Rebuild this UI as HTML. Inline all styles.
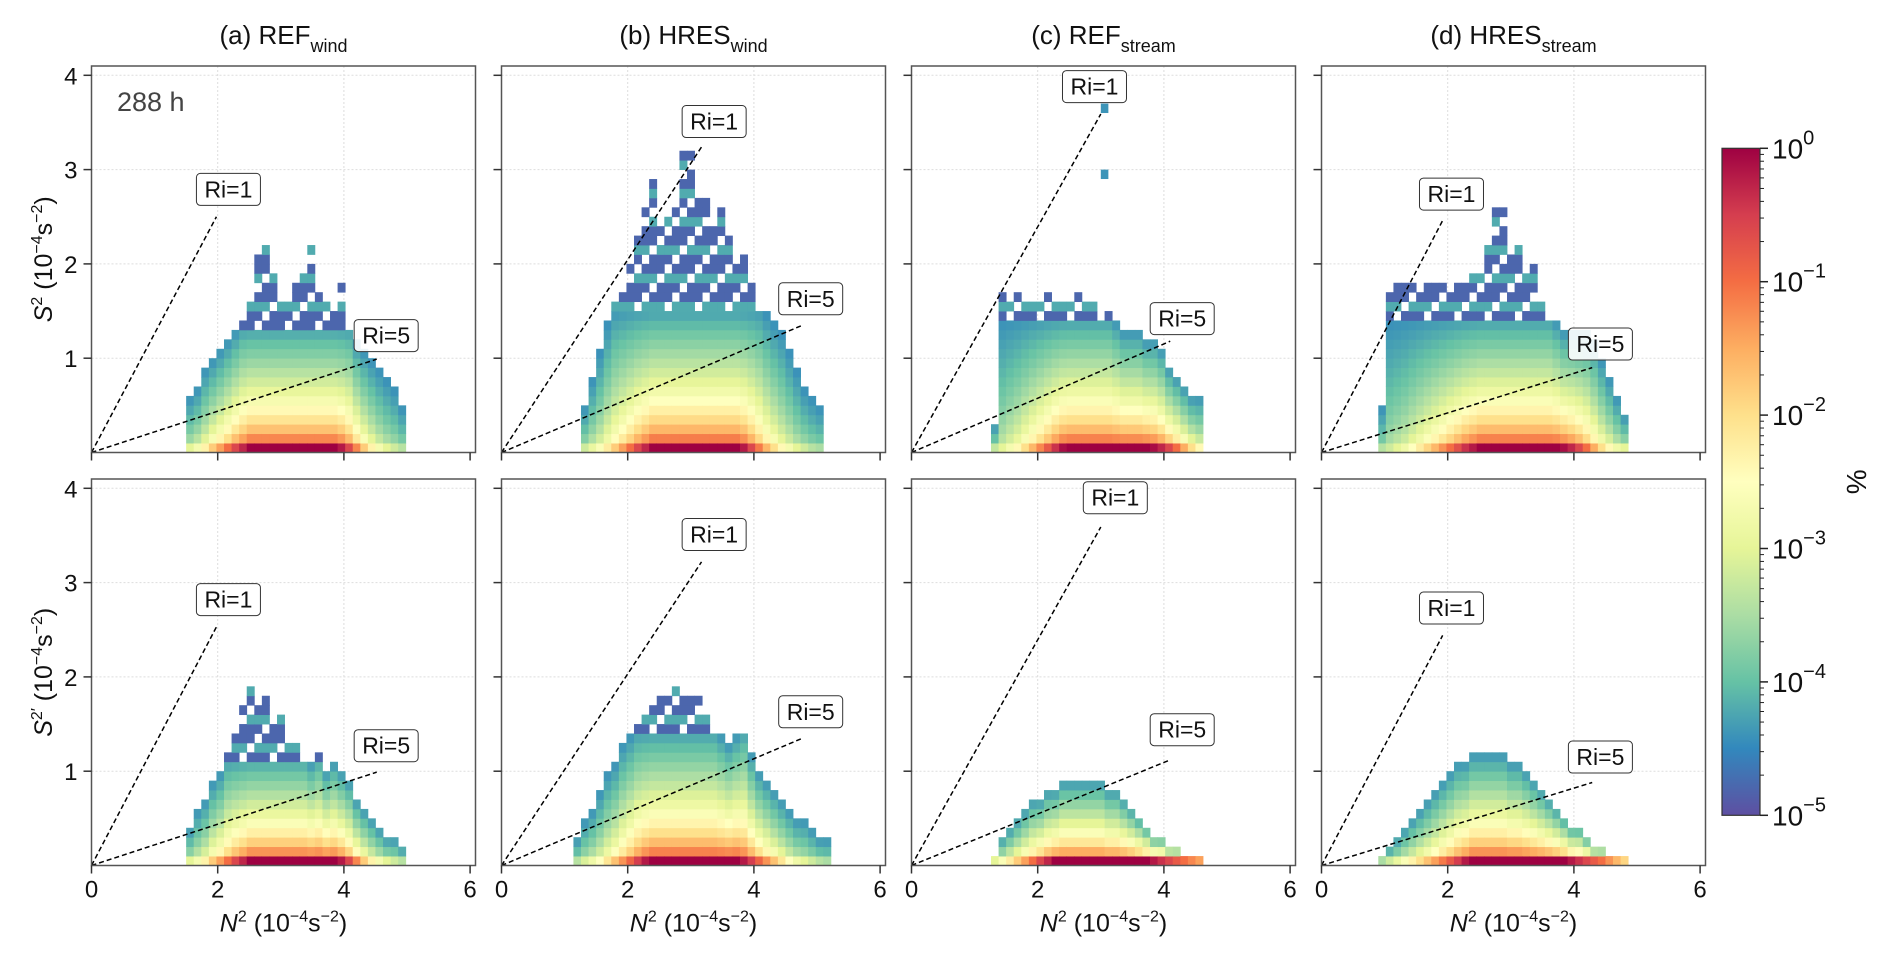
<!DOCTYPE html>
<html><head><meta charset="utf-8"><style>
html,body{margin:0;padding:0;background:#fff;}
svg{display:block;font-family:"Liberation Sans","DejaVu Sans",sans-serif;}
</style></head><body>
<svg id="fig" width="1892" height="961" viewBox="0 0 1892 961" xmlns="http://www.w3.org/2000/svg">
<defs>
<linearGradient id="cbgrad" x1="0" y1="1" x2="0" y2="0">
<stop offset="0" stop-color="#5e4fa2"/><stop offset="0.1" stop-color="#3288bd"/><stop offset="0.2" stop-color="#66c2a5"/><stop offset="0.3" stop-color="#abdda4"/><stop offset="0.4" stop-color="#e6f598"/><stop offset="0.5" stop-color="#ffffbf"/><stop offset="0.6" stop-color="#fee08b"/><stop offset="0.7" stop-color="#fdae61"/><stop offset="0.8" stop-color="#f46d43"/><stop offset="0.9" stop-color="#d53e4f"/><stop offset="1" stop-color="#9e0142"/>
</linearGradient>
</defs>
</svg>
<script>
// ---- data (per panel: a-top, b-top, c-top, d-top, a-bot, b-bot, c-bot, d-bot) ----
const panelTitles = ["(a) REF", "(b) HRES", "(c) REF", "(d) HRES"];
const panelSubs = ["wind", "wind", "stream", "stream"];
const binStarts = [1.5, 1.26, 1.26, 0.9, 1.5, 1.14, 1.26, 0.9];
const binWidth = 0.12;
const binHeight = 0.1;
const topsA1 = [0.6,0.7,0.9,1.0,1.1,1.2,1.3,1.4,1.6,2.2,2.2,1.9,1.7,1.6,1.9,2.0,2.2,1.8,1.6,1.5,1.8,1.4,1.2,1.1,1.0,0.9,0.8,0.7,0.5];
const basesA1 = [-3,-2.7,-2.3,-1.8,-1.4,-1,-0.6,-0.3,0,0,0,0,0,0,0,0,0,0,0,0,-0.2,-0.6,-1.2,-1.8,-2.3,-2.7,-3,-3.2,-3.4];
const topsB1 = [0.5,0.8,1.1,1.4,1.6,1.8,2.0,2.3,2.6,2.9,2.4,2.5,2.6,3.2,3.2,2.8,2.7,2.4,2.6,2.3,2.0,2.2,1.8,1.6,1.5,1.4,1.3,1.1,0.9,0.7,0.6,0.5];
const basesB1 = [-3.2,-2.9,-2.6,-2.2,-1.8,-1.4,-1,-0.6,-0.3,0,0,0,0,0,0,0,0,0,0,0,0,-0.2,-0.6,-1.1,-1.6,-2,-2.4,-2.7,-3,-3.2,-3.4,-3.5];
const topsC1 = [0.3,1.8,1.6,1.7,1.6,1.6,1.6,1.7,1.6,1.6,1.6,1.7,1.6,1.6,1.5,1.5,1.4,1.3,1.3,1.3,1.2,1.2,1.1,0.9,0.8,0.7,0.6,0.6];
const basesC1 = [-3.3,-3,-2.7,-2.4,-2,-1.6,-1.2,-0.8,-0.4,-0.1,0,0,0,0,0,0,0,0,0,0,0,-0.1,-0.3,-0.6,-1,-1.5,-2,-2.4];
const topsD1 = [0.5,1.8,1.9,1.8,1.8,1.8,1.8,1.8,1.8,1.8,1.9,1.8,1.9,1.9,2.2,2.6,2.6,2.2,2.2,2.0,2.0,1.6,1.5,1.4,1.3,1.3,1.3,1.3,1.2,1.0,0.8,0.6,0.4];
const basesD1 = [-3.4,-3.2,-3,-2.8,-2.5,-2.2,-1.9,-1.6,-1.3,-1,-0.7,-0.4,-0.2,0,0,0,0,0,0,0,0,0,0,0,-0.1,-0.3,-0.6,-1,-1.5,-2,-2.4,-2.8,-3];
const topsA2 = [0.4,0.6,0.7,0.9,1.0,1.2,1.5,1.7,1.9,1.8,1.9,1.5,1.7,1.4,1.3,1.2,1.1,1.2,1.0,1.1,1.0,0.9,0.7,0.6,0.5,0.4,0.3,0.3,0.2];
const basesA2 = [-3,-2.7,-2.3,-1.8,-1.4,-1,-0.6,-0.3,0,0,0,0,0,0,0,0,0,0,0,0,-0.2,-0.6,-1.2,-1.8,-2.3,-2.7,-3,-3.2,-3.4];
const topsB2 = [0.3,0.5,0.6,0.8,1.0,1.1,1.3,1.4,1.5,1.6,1.7,1.8,1.8,1.9,1.9,1.8,1.8,1.6,1.5,1.4,1.3,1.4,1.5,1.2,1.0,0.9,0.8,0.7,0.6,0.5,0.5,0.4,0.3,0.3];
const basesB2 = [-3.4,-3.1,-2.8,-2.5,-2.1,-1.7,-1.3,-0.9,-0.5,-0.2,0,0,0,0,0,0,0,0,0,0,0,0,-0.2,-0.5,-0.9,-1.3,-1.7,-2.1,-2.5,-2.8,-3,-3.2,-3.4,-3.5];
const topsC2 = [0.1,0.3,0.4,0.5,0.6,0.7,0.7,0.8,0.8,0.9,0.9,0.9,0.9,0.9,0.9,0.8,0.8,0.7,0.6,0.5,0.4,0.3,0.3,0.2,0.2,0.1,0.1,0.1];
const basesC2 = [-3,-2.6,-2.2,-1.8,-1.4,-1,-0.6,-0.3,0,0,0,0,0,0,0,0,0,0,0,0,0,-0.2,-0.4,-0.6,-0.8,-1,-1.2,-1.4];
const topsD2 = [0.1,0.2,0.3,0.4,0.5,0.6,0.7,0.8,0.9,1.0,1.1,1.1,1.2,1.2,1.2,1.2,1.2,1.1,1.1,1.0,0.9,0.8,0.7,0.6,0.5,0.4,0.4,0.3,0.2,0.2,0.1,0.1,0.1];
const basesD2 = [-3.5,-3.2,-2.9,-2.6,-2.3,-2,-1.7,-1.4,-1.1,-0.8,-0.5,-0.2,0,0,0,0,0,0,0,0,0,0,0,0,0,-0.2,-0.4,-0.6,-0.8,-1,-1.3,-1.6,-1.9];
const bulkCaps = [1.3, 1.5, 1.4, 1.4, 1.1, 1.4, 0.9, 1.2];
const outlierX = [[], [], [3.0, 3.0], [], [], [], [], []];
const outlierY = [[], [], [3.6, 2.9], [], [], [], [], []];
const ri1EndX = [1.98, 3.17, 3.0, 1.92, 1.98, 3.17, 3.0, 1.92];
const ri1EndY = [2.5, 3.24, 3.59, 2.46, 2.53, 3.22, 3.59, 2.44];
const ri5EndX = [4.52, 4.77, 4.1, 4.29, 4.52, 4.77, 4.1, 4.29];
const ri5EndY = [0.99, 1.35, 1.18, 0.9, 0.99, 1.35, 1.12, 0.88];
const ri1LabelX = [2.17, 3.37, 2.9, 2.06, 2.17, 3.37, 3.23, 2.06];
const ri1LabelY = [2.79, 3.51, 3.88, 2.74, 2.82, 3.51, 3.9, 2.73];
const ri5LabelX = [4.67, 4.9, 4.29, 4.42, 4.67, 4.9, 4.29, 4.42];
const ri5LabelY = [1.24, 1.63, 1.42, 1.15, 1.27, 1.63, 1.44, 1.15];
const xTicks = [0, 2, 4, 6];
const yTicks = [1, 2, 3, 4];
const cbTicks = [0, -1, -2, -3, -4, -5];

const allTops = [topsA1, topsB1, topsC1, topsD1, topsA2, topsB2, topsC2, topsD2];
const allBases = [basesA1, basesB1, basesC1, basesD1, basesA2, basesB2, basesC2, basesD2];

// ---- layout ----
const NS = "http://www.w3.org/2000/svg";
const svg = document.getElementById('fig');
const PX_X = 63.1, PX_Y = 94.3, PW = 384, PH = 386.5;
const rowTop = [66, 479];
function panelLeft(c){ return 91.5 + 410*c; }
function el(tag, attrs, parent){
  const e = document.createElementNS(NS, tag);
  for (const k in attrs) e.setAttribute(k, attrs[k]);
  (parent||svg).appendChild(e); return e;
}
const stops = ["#5e4fa2","#3288bd","#66c2a5","#abdda4","#e6f598","#ffffbf","#fee08b","#fdae61","#f46d43","#d53e4f","#9e0142"];
function hex(h){ return [parseInt(h.substr(1,2),16),parseInt(h.substr(3,2),16),parseInt(h.substr(5,2),16)]; }
function cmap(v){
  let t = (v + 5) / 5; t = Math.max(0, Math.min(1, t));
  const f = t * 10, i = Math.min(9, Math.floor(f)), r = f - i;
  const a = hex(stops[i]), b = hex(stops[i+1]);
  return "rgb(" + a.map((x,k)=>Math.round(x+(b[k]-x)*r)).join(",") + ")";
}

for (let p = 0; p < 8; p++){
  const c = p % 4, r = Math.floor(p / 4);
  const L = panelLeft(c), T = rowTop[r], B = T + PH;
  const sx = v => L + v * PX_X;
  const sy = v => B - v * PX_Y;
  const g = el('g', {});
  
  
  xTicks.forEach(t => { if (t > 0 && t < 6) {
    const gl = el('line', {x1:sx(t), x2:sx(t), y1:T, y2:B, stroke:'#ddd', 'stroke-width':1, 'stroke-dasharray':'2,2'}, g);
    
    
  }});
  yTicks.forEach(t => {
    const gl = el('line', {x1:L, x2:L+PW, y1:sy(t), y2:sy(t), stroke:'#ddd', 'stroke-width':1, 'stroke-dasharray':'2,2'}, g);
    
    
  });
  const tops = allTops[p], bases = allBases[p], cap = bulkCaps[p];
  const vTop = -4.5;
  for (let i = 0; i < tops.length; i++){
    const x0 = binStarts[p] + i * binWidth;
    const nRows = Math.round(tops[i] / binHeight);
    for (let j = 0; j < nRows; j++){
      const y0 = j * binHeight;
      let v;
      if (y0 >= cap) {
        if ((i * 5 + j * 3) % 4 === 0) continue;
        v = ((i * 3 + j) % 3 === 0) ? -4.2 : -4.8;
      } else {
        const f = y0 / Math.min(tops[i], cap + 0.1);
        v = bases[i] + (vTop - bases[i]) * Math.min(1, Math.pow(f, 0.5));
      }
      const cell = el('rect', {x:sx(x0).toFixed(2), y:sy(y0+binHeight).toFixed(2), width:(binWidth*PX_X+0.4).toFixed(2), height:(binHeight*PX_Y+0.4).toFixed(2), fill:cmap(v)}, g);
      
      
    }
  }
  outlierX[p].forEach((ox, k) => {
    const cell = el('rect', {x:sx(ox), y:sy(outlierY[p][k]+binHeight), width:binWidth*PX_X, height:binHeight*PX_Y, fill:cmap(-4.4)}, g);
    
    
  });
  const l1 = el('line', {x1:sx(0), y1:sy(0), x2:sx(ri1EndX[p]), y2:sy(ri1EndY[p]), stroke:'#000', 'stroke-width':1.5, 'stroke-dasharray':'5,3'}, g);
  
  
  const l5 = el('line', {x1:sx(0), y1:sy(0), x2:sx(ri5EndX[p]), y2:sy(ri5EndY[p]), stroke:'#000', 'stroke-width':1.5, 'stroke-dasharray':'5,3'}, g);
  
  
  [[ri1LabelX[p], ri1LabelY[p], 'Ri=1', 'ri1-label'], [ri5LabelX[p], ri5LabelY[p], 'Ri=5', 'ri5-label']].forEach(lb => {
    const cx = sx(lb[0]), cy = sy(lb[1]);
    const bx = el('rect', {x:cx-32, y:cy-16, width:64, height:32, rx:4, fill:'#fff', 'fill-opacity':0.9, stroke:'#333', 'stroke-width':1}, g);
    
    
    const tx = el('text', {x:cx, y:cy+8, 'text-anchor':'middle', 'font-size':23, fill:'#111'}, g);
    tx.textContent = lb[2];
    
    
  });
  const fr = el('rect', {x:L, y:T, width:PW, height:PH, fill:'none', stroke:'#555', 'stroke-width':1.5}, g);
  
  
  xTicks.forEach(t => {
    const tk = el('line', {x1:sx(t), x2:sx(t), y1:B, y2:B+8, stroke:'#333', 'stroke-width':1.5}, g);
    
    
    if (r === 1) {
      const tl = el('text', {x:sx(t), y:B+32, 'text-anchor':'middle', 'font-size':24, fill:'#111'}, g);
      tl.textContent = t;
      
      
    }
  });
  yTicks.forEach(t => {
    const tk = el('line', {x1:L-8, x2:L, y1:sy(t), y2:sy(t), stroke:'#333', 'stroke-width':1.5}, g);
    
    
    if (c === 0) {
      const tl = el('text', {x:L-14, y:sy(t)+9, 'text-anchor':'end', 'font-size':24, fill:'#111'}, g);
      tl.textContent = t;
      
      
    }
  });
  if (r === 1) {
    const xl = el('text', {x:L+PW/2, y:B+66, 'text-anchor':'middle', 'font-size':25, fill:'#111'}, g);
    xl.innerHTML = '<tspan font-style="italic">N</tspan><tspan dy="-10" font-size="16">2</tspan><tspan dy="10"> (10</tspan><tspan dy="-10" font-size="16">−4</tspan><tspan dy="10">s</tspan><tspan dy="-10" font-size="16">−2</tspan><tspan dy="10">)</tspan>';
    
    
  } else {
    const tt = el('text', {x:L+PW/2, y:44, 'text-anchor':'middle', 'font-size':26, fill:'#111'}, g);
    tt.innerHTML = panelTitles[c] + '<tspan dy="8" font-size="18">' + panelSubs[c] + '</tspan>';
    
    
  }
  if (c === 0) {
    const yl = el('text', {transform:'translate(' + 52 + ',' + (T+PH/2) + ') rotate(-90)', 'text-anchor':'middle', 'font-size':25, fill:'#111'}, g);
    yl.innerHTML = '<tspan font-style="italic">S</tspan><tspan dy="-10" font-size="16">2' + (r ? '′' : '') + '</tspan><tspan dy="10"> (10</tspan><tspan dy="-10" font-size="16">−4</tspan><tspan dy="10">s</tspan><tspan dy="-10" font-size="16">−2</tspan><tspan dy="10">)</tspan>';
    
    
  }
  if (p === 0) {
    const lt = el('text', {x:117, y:111, 'font-size':27, fill:'#444'}, g);
    lt.textContent = '288 h';
    
    
  }
}

// ---- colorbar ----
const CB_L = 1722, CB_T = 148.3, CB_W = 38, CB_H = 667;
const cbg = el('g', {});


const cbr = el('rect', {x:CB_L, y:CB_T, width:CB_W, height:CB_H, fill:'url(#cbgrad)', stroke:'#333', 'stroke-width':1.2}, cbg);


const cby = v => CB_T + (-v) / 5 * CB_H;
cbTicks.forEach(t => {
  const tk = el('line', {x1:CB_L+CB_W, x2:CB_L+CB_W+8, y1:cby(t), y2:cby(t), stroke:'#222', 'stroke-width':1.5}, cbg);
  
  
  for (let m = 2; m <= 9 && t > -5; m++) {
    const mv = t - 1 + Math.log10(m);
    const mt = el('line', {x1:CB_L+CB_W, x2:CB_L+CB_W+4, y1:cby(mv), y2:cby(mv), stroke:'#222', 'stroke-width':1}, cbg);
    
    
  }
  const tl = el('text', {x:CB_L+CB_W+12, y:cby(t)+10, 'font-size':28, fill:'#111'}, cbg);
  tl.innerHTML = '10<tspan dy="-14" font-size="20">' + (t === 0 ? '0' : '−' + (-t)) + '</tspan>';
  
  
});
const pct = el('text', {transform:'translate(1866,' + (CB_T+CB_H/2) + ') rotate(-90)', 'text-anchor':'middle', 'font-size':28, fill:'#111'}, cbg);
pct.textContent = '%';


</script>
</body></html>
